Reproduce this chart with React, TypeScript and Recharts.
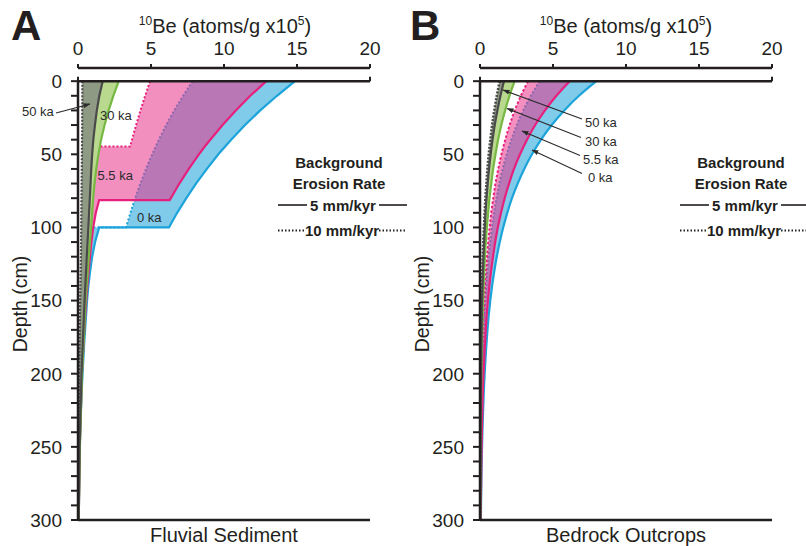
import React from 'react';
import { ComposedChart, Area, Line, XAxis, YAxis, ReferenceLine } from 'recharts';

const FONT = '"Liberation Sans", Arial, Helvetica, sans-serif';
const INK = '#231f20';

// ---------- Panel A: Fluvial Sediment ----------
const aBlueDepth = [0, 10, 20, 30, 40, 50, 60, 70, 80, 90, 100, 100, 110, 120, 130, 140, 150, 165, 180, 200, 225, 250, 300];
const aBlue5 = [14.86, 13.63, 12.48, 11.44, 10.49, 9.61, 8.83, 8.08, 7.42, 6.79, 6.23, 1.45, 1.17, 0.97, 0.83, 0.71, 0.62, 0.52, 0.42, 0.31, 0.2, 0.12, 0.05];
const aBlue10 = [7.85, 7.2, 6.59, 6.04, 5.54, 5.08, 4.66, 4.27, 3.92, 3.59, 3.29, 0.72, 0.6, 0.5, 0.42, 0.36, 0.3, 0.24, 0.19, 0.13, 0.09, 0.06, 0.02];

const aPinkDepth = [0, 10, 20, 30, 40, 44.7, 44.7, 50, 60, 70, 80, 81.3, 81.3, 90, 100, 110, 120, 135, 150, 175, 200, 250, 300];
const aPink5 = [12.9, 11.8, 10.81, 9.9, 9.06, 8.68, 8.68, 8.28, 7.59, 6.94, 6.36, 6.28, 1.45, 1.22, 1.04, 0.92, 0.82, 0.68, 0.56, 0.4, 0.27, 0.12, 0.05];
const aPink10 = [4.93, 4.6, 4.28, 3.98, 3.7, 3.57, 1.35, 1.3, 1.2, 1.1, 1.0, 0.99, 0.99, 0.93, 0.86, 0.78, 0.7, 0.58, 0.47, 0.33, 0.22, 0.1, 0.04];

const aOldDepth = [0, 10, 20, 30, 40, 50, 60, 70, 80, 90, 100, 120, 150, 200, 250, 300];
const aGreen5 = [2.79, 2.42, 2.1, 1.82, 1.58, 1.4, 1.25, 1.13, 1.04, 0.97, 0.9, 0.74, 0.52, 0.28, 0.13, 0.05];
const aGreen10 = [1.5, 1.3, 1.15, 1.03, 0.93, 0.85, 0.8, 0.76, 0.72, 0.68, 0.64, 0.52, 0.38, 0.2, 0.09, 0.03];
const aGray5 = [1.69, 1.46, 1.29, 1.16, 1.05, 0.97, 0.91, 0.86, 0.81, 0.76, 0.71, 0.6, 0.45, 0.24, 0.11, 0.04];
const aGray10 = [0.3, 0.3, 0.29, 0.29, 0.28, 0.27, 0.26, 0.25, 0.24, 0.23, 0.22, 0.2, 0.15, 0.08, 0.04, 0.02];

// ---------- Panel B: Bedrock Outcrops ----------
const bDepth = [0, 10, 20, 30, 40, 50, 60, 70, 80, 90, 100, 120, 140, 160, 180, 200, 250, 300];
const bBlue5 = [7.97, 6.78, 5.77, 4.91, 4.18, 3.56, 3.03, 2.58, 2.19, 1.87, 1.59, 1.15, 0.83, 0.6, 0.44, 0.32, 0.14, 0.06];
const bBlue10 = [4.09, 3.48, 2.96, 2.52, 2.15, 1.83, 1.55, 1.32, 1.13, 0.96, 0.82, 0.59, 0.43, 0.31, 0.22, 0.16, 0.07, 0.03];
const bPink5 = [6.14, 5.23, 4.45, 3.78, 3.22, 2.74, 2.33, 1.99, 1.69, 1.44, 1.22, 0.89, 0.64, 0.46, 0.34, 0.24, 0.11, 0.05];
const bPink10 = [3.29, 2.8, 2.38, 2.03, 1.73, 1.47, 1.25, 1.06, 0.91, 0.77, 0.66, 0.48, 0.34, 0.25, 0.18, 0.13, 0.06, 0.03];
const bGreen5 = [2.37, 2.02, 1.72, 1.46, 1.24, 1.06, 0.9, 0.77, 0.65, 0.56, 0.47, 0.34, 0.25, 0.18, 0.13, 0.09, 0.04, 0.02];
const bGreen10 = [1.45, 1.23, 1.05, 0.89, 0.76, 0.65, 0.55, 0.47, 0.4, 0.34, 0.29, 0.21, 0.15, 0.11, 0.08, 0.06, 0.03, 0.01];
const bGray5 = [1.64, 1.4, 1.19, 1.01, 0.86, 0.73, 0.62, 0.53, 0.45, 0.38, 0.33, 0.24, 0.17, 0.12, 0.09, 0.07, 0.03, 0.01];
const bGray10 = [1.35, 1.15, 0.98, 0.83, 0.71, 0.6, 0.51, 0.44, 0.37, 0.32, 0.27, 0.19, 0.14, 0.1, 0.07, 0.05, 0.02, 0.01];

// ---------- Axes ----------
const CONC_TICKS = [0, 5, 10, 15, 20];
const DEPTH_TICKS = [0, 10, 20, 30, 40, 50, 60, 70, 80, 90, 100, 110, 120, 130, 140, 150, 160, 170, 180, 190, 200, 210, 220, 230, 240, 250, 260, 270, 280, 290, 300];
const DEPTH_LABELS = [0, 50, 100, 150, 200, 250, 300];

const C = {
  blueLine: '#1ba3da', blueFill: '#80cbea',
  pinkLine: '#e6217c', pinkFill: '#e8338a',
  greenLine: '#77b843', greenFill: '#b9d98f',
  grayLine: '#4a4a4a', grayFill: '#8e9a84',
};

type Row = { d: number; lo: number; hi: number; band: [number, number] };
const mk = (depth: number[], s5: number[], s10: number[]): Row[] =>
  depth.map((d, i) => ({ d, lo: s10[i], hi: s5[i], band: [s10[i], s5[i]] }));

const DepthTick = (props: any) => {
  const { x, y, payload } = props;
  if (!DEPTH_LABELS.includes(payload.value)) return <g />;
  return (
    <text x={x} y={y} dy={6.8} textAnchor="end" fontSize={19} fontFamily={FONT} fill={INK}>
      {payload.value}
    </text>
  );
};

type BandSpec = { data: Row[]; fill: string; fillOpacity: number; line: string; dash: string; dashW: number; drawLo: boolean };

function Panel({ left, bands, curve }: { left: number; bands: BandSpec[]; curve: 'linear' | 'monotone' }) {
  let z = 100;
  const items: React.ReactNode[] = [];
  bands.forEach((b, i) => {
    items.push(
      <Area key={`a${i}`} data={b.data} dataKey="band" type={curve} fill={b.fill} fillOpacity={b.fillOpacity}
        stroke="none" isAnimationActive={false} dot={false} activeDot={false} zIndex={z++} />
    );
    if (b.drawLo) {
      items.push(
        <Line key={`lo${i}`} data={b.data} dataKey="lo" type={curve} stroke={b.line} strokeWidth={b.dashW}
          strokeDasharray={b.dash} isAnimationActive={false} dot={false} activeDot={false} zIndex={z++} />
      );
    }
    items.push(
      <Line key={`hi${i}`} data={b.data} dataKey="hi" type={curve} stroke={b.line} strokeWidth={2.2}
        isAnimationActive={false} dot={false} activeDot={false} zIndex={z++} />
    );
  });
  return (
    <ComposedChart layout="vertical" width={400} height={546}
      margin={{ top: 38, right: 30, bottom: 26, left: 0 }}
      style={{ position: 'absolute', left, top: 0 }}>
      <XAxis type="number" orientation="top" domain={[0, 20]} allowDataOverflow ticks={CONC_TICKS} interval={0}
        height={30} tickSize={4} tickMargin={9}
        axisLine={{ stroke: INK, strokeWidth: 2.5 }} tickLine={{ stroke: INK, strokeWidth: 2 }}
        tick={{ fill: INK, fontSize: 19, fontFamily: FONT }} />
      <YAxis type="number" dataKey="d" domain={[-9, 300]} allowDataOverflow ticks={DEPTH_TICKS} interval={0}
        width={78} tickSize={7} tickMargin={9} axisLine={false}
        tickLine={{ stroke: INK, strokeWidth: 2 }} tick={<DepthTick />} />
      {items}
      <ReferenceLine y={0} stroke={INK} strokeWidth={2.5} ifOverflow="visible" zIndex={700} />
      <ReferenceLine y={300} stroke={INK} strokeWidth={2.5} ifOverflow="visible" zIndex={700} />
      <ReferenceLine segment={[{ x: 0, y: 0 }, { x: 0, y: 300 }]} stroke={INK} strokeWidth={2.5} ifOverflow="visible" zIndex={700} />
      <ReferenceLine segment={[{ x: 0, y: -3 }, { x: 0, y: 0 }]} stroke={INK} strokeWidth={2} ifOverflow="visible" zIndex={700} />
      <ReferenceLine segment={[{ x: 20, y: -3 }, { x: 20, y: 0 }]} stroke={INK} strokeWidth={2} ifOverflow="visible" zIndex={700} />
    </ComposedChart>
  );
}

const bandsA: BandSpec[] = [
  { data: mk(aBlueDepth, aBlue5, aBlue10), fill: C.blueFill, fillOpacity: 1, line: C.blueLine, dash: '2 2', dashW: 2, drawLo: true },
  { data: mk(aPinkDepth, aPink5, aPink10), fill: C.pinkFill, fillOpacity: 0.55, line: C.pinkLine, dash: '2 2', dashW: 2, drawLo: true },
  { data: mk(aOldDepth, aGreen5, aGreen10), fill: C.greenFill, fillOpacity: 1, line: C.greenLine, dash: '2 2', dashW: 2, drawLo: false },
  { data: mk(aOldDepth, aGray5, aGray10), fill: C.grayFill, fillOpacity: 1, line: C.grayLine, dash: '2 1.5', dashW: 2.2, drawLo: true },
];
const bandsB: BandSpec[] = [
  { data: mk(bDepth, bBlue5, bBlue10), fill: C.blueFill, fillOpacity: 1, line: C.blueLine, dash: '2 2', dashW: 2, drawLo: true },
  { data: mk(bDepth, bPink5, bPink10), fill: C.pinkFill, fillOpacity: 0.55, line: C.pinkLine, dash: '2.5 2', dashW: 2, drawLo: true },
  { data: mk(bDepth, bGreen5, bGreen10), fill: C.greenFill, fillOpacity: 1, line: C.greenLine, dash: '2 2', dashW: 2, drawLo: false },
  { data: mk(bDepth, bGray5, bGray10), fill: C.grayFill, fillOpacity: 1, line: C.grayLine, dash: '2 1.5', dashW: 2.6, drawLo: true },
];

function Title({ cx }: { cx: number }) {
  return (
    <text x={cx} y={33} textAnchor="middle" fontFamily={FONT} fill={INK} fontSize={20}>
      <tspan fontSize={12} dy={-8}>10</tspan>
      <tspan dy={8}>Be (atoms/g x10</tspan>
      <tspan fontSize={12} dy={-8}>5</tspan>
      <tspan dy={8}>)</tspan>
    </text>
  );
}

function Legend({ dx }: { dx: number }) {
  const t = { fontFamily: FONT, fill: INK, fontWeight: 700, fontSize: 15, textAnchor: 'middle' as const };
  return (
    <g transform={`translate(${dx},0)`}>
      <text x={339} y={168} {...t}>Background</text>
      <text x={339} y={189} {...t}>Erosion Rate</text>
      <line x1={278} x2={307} y1={205} y2={205} stroke={INK} strokeWidth={1.6} />
      <text x={343} y={210.5} {...t}>5 mm/kyr</text>
      <line x1={379} x2={407} y1={205} y2={205} stroke={INK} strokeWidth={1.6} />
      <line x1={278} x2={305} y1={230.5} y2={230.5} stroke={INK} strokeWidth={2} strokeDasharray="1.5 2" />
      <text x={342} y={236} {...t}>10 mm/kyr</text>
      <line x1={379} x2={406} y1={230.5} y2={230.5} stroke={INK} strokeWidth={2} strokeDasharray="1.5 2" />
    </g>
  );
}

function Overlay() {
  const ann = { fontFamily: FONT, fontSize: 13, fill: '#2b2b2b' };
  const big = { fontFamily: FONT, fontSize: 20, fill: INK };
  const arrow = { stroke: '#2b2b2b', strokeWidth: 1.1, markerEnd: 'url(#ah)' };
  return (
    <svg width={806} height={546} style={{ position: 'absolute', left: 0, top: 0, pointerEvents: 'none' }}>
      <defs>
        <marker id="ah" markerWidth="7" markerHeight="6" refX="6.5" refY="3" orient="auto" markerUnits="userSpaceOnUse">
          <path d="M0,0.5 L7,3 L0,5.5 z" fill="#2b2b2b" />
        </marker>
      </defs>
      <text x={11} y={40} fontFamily={FONT} fontWeight={700} fontSize={42} fill={INK}>A</text>
      <text x={410} y={40} fontFamily={FONT} fontWeight={700} fontSize={42} fill={INK}>B</text>
      <Title cx={225} />
      <Title cx={626} />
      <text transform="translate(27,304) rotate(-90)" textAnchor="middle" {...big} fontSize={19.5}>Depth (cm)</text>
      <text transform="translate(429,304) rotate(-90)" textAnchor="middle" {...big} fontSize={19.5}>Depth (cm)</text>
      <text x={224} y={542} textAnchor="middle" {...big}>Fluvial Sediment</text>
      <text x={626} y={542} textAnchor="middle" {...big}>Bedrock Outcrops</text>
      <Legend dx={0} />
      <Legend dx={402} />
      {/* Panel A annotations */}
      <text x={22} y={115.5} {...ann}>50 ka</text>
      <line x1={56} y1={113} x2={90} y2={104} {...arrow} />
      <text x={100} y={120} {...ann}>30 ka</text>
      <text x={97.5} y={180} {...ann}>5.5 ka</text>
      <text x={137} y={222} {...ann}>0 ka</text>
      {/* Panel B annotations */}
      <text x={585} y={126.5} {...ann}>50 ka</text>
      <text x={585} y={145.5} {...ann}>30 ka</text>
      <text x={583} y={163.5} {...ann}>5.5 ka</text>
      <text x={588} y={182} {...ann}>0 ka</text>
      <line x1={582} y1={119} x2={503} y2={90} {...arrow} />
      <line x1={581} y1={137.5} x2={507} y2={108.5} {...arrow} />
      <line x1={580} y1={155.5} x2={522} y2={131} {...arrow} />
      <line x1={582} y1={173.5} x2={532} y2={150} {...arrow} />
    </svg>
  );
}

export default function App() {
  return (
    <div style={{ position: 'absolute', left: 0, top: 0, width: 806, height: 546, background: '#fff', overflow: 'hidden' }}>
      <Panel left={0} bands={bandsA} curve="linear" />
      <Panel left={402} bands={bandsB} curve="monotone" />
      <Overlay />
    </div>
  );
}
